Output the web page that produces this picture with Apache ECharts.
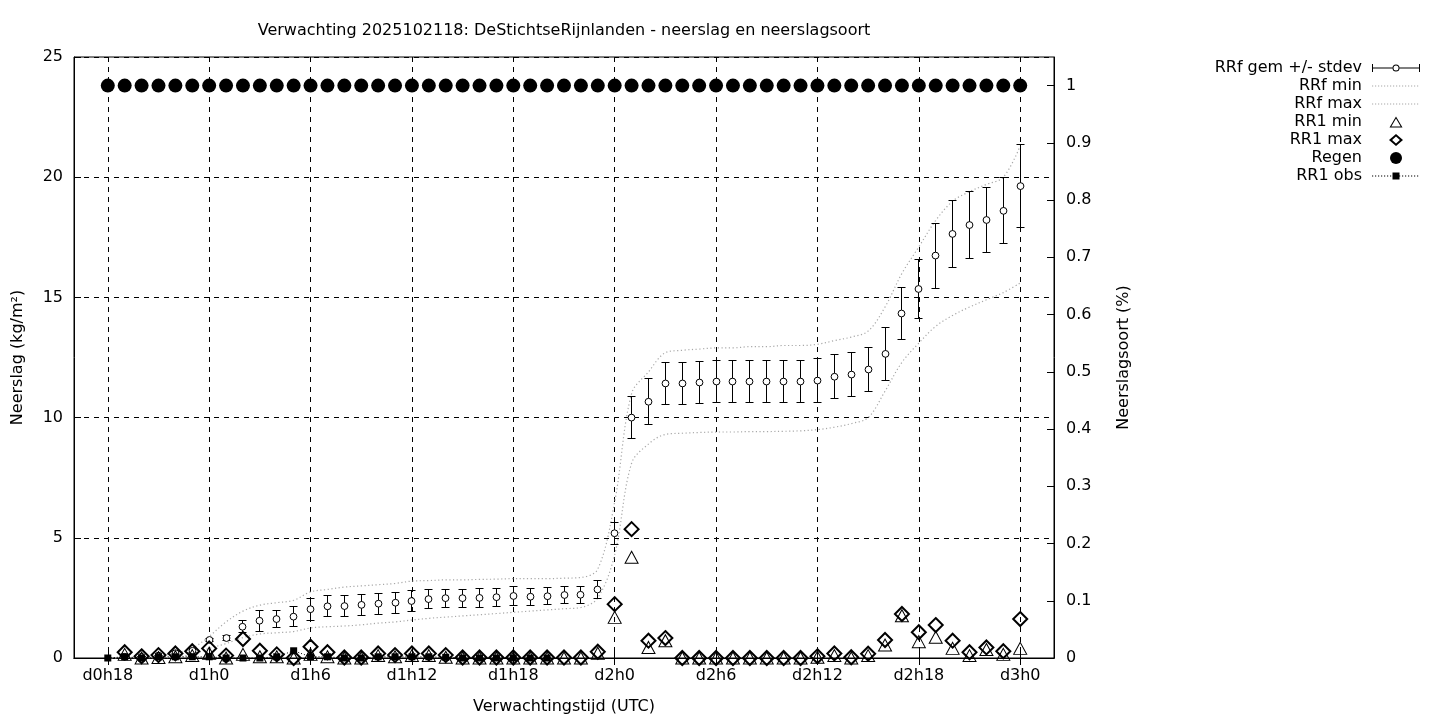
<!DOCTYPE html>
<html>
<head>
<meta charset="utf-8">
<title>Verwachting neerslag</title>
<script src="https://cdn.jsdelivr.net/npm/echarts@6/dist/echarts.min.js"></script>
<style>
  html, body { margin: 0; padding: 0; background: #fff; }
  #chart { width: 1440px; height: 720px; }
</style>
</head>
<body>
<div id="chart"></div>
<script>
// uren vanaf d0h0; de punten lopen van uur 18 (d0h18) tot uur 72 (d3h0)
var firstHour = 18;
var axisHours = [];
for (var h = 16; h <= 74; h++) axisHours.push(h);
var tickHours = [18, 24, 30, 36, 42, 48, 54, 60, 66, 72];

// RRf gemiddelde (kg/m2), per uur vanaf d0h18
var rrfGem = [null, 0.05, 0.05, 0.1, 0.2, 0.3,
  0.75, 0.83, 1.3, 1.55, 1.62, 1.72,
  2.03, 2.15, 2.16, 2.21, 2.26, 2.3,
  2.37, 2.45, 2.49, 2.49, 2.5, 2.53,
  2.58, 2.55, 2.57, 2.62, 2.63, 2.85,
  5.19, 10.0, 10.66, 11.42, 11.42, 11.46,
  11.5, 11.5, 11.5, 11.5, 11.5, 11.5,
  11.54, 11.7, 11.79, 12.0, 12.65, 14.33,
  15.35, 16.74, 17.64, 18.01, 18.22, 18.6,
  19.63];
// standaarddeviatie
var rrfStdev = [null, 0, 0, 0.02, 0.05, 0.08,
  0.05, 0.1, 0.25, 0.43, 0.35, 0.41,
  0.45, 0.44, 0.44, 0.44, 0.44, 0.44,
  0.45, 0.4, 0.38, 0.38, 0.38, 0.38,
  0.38, 0.36, 0.36, 0.36, 0.36, 0.36,
  0.45, 0.88, 0.95, 0.89, 0.87, 0.88,
  0.89, 0.88, 0.88, 0.88, 0.88, 0.88,
  0.9, 0.92, 0.9, 0.9, 1.09, 1.08,
  1.22, 1.35, 1.41, 1.41, 1.35, 1.37,
  1.71];
var rrfMin = [0, 0, 0, 0, 0.05, 0.15,
  0.4, 0.6, 0.85, 1.0, 1.05, 1.1,
  1.25, 1.3, 1.33, 1.38, 1.45, 1.5,
  1.58, 1.65, 1.7, 1.75, 1.8, 1.85,
  1.9, 1.95, 2.0, 2.05, 2.1, 2.5,
  4.3, 8.1, 8.9, 9.3, 9.35, 9.38,
  9.4, 9.4, 9.42, 9.42, 9.43, 9.45,
  9.5, 9.6, 9.75, 10.0, 11.1, 12.3,
  13.1, 13.8, 14.25, 14.6, 14.9, 15.2,
  15.6];
var rrfMax = [0, 0, 0.05, 0.1, 0.2, 0.4,
  0.9, 1.5, 1.95, 2.2, 2.3, 2.4,
  2.75, 2.85, 2.95, 3.0, 3.05, 3.1,
  3.2, 3.22, 3.25, 3.25, 3.27, 3.28,
  3.3, 3.3, 3.3, 3.32, 3.35, 3.7,
  6.5, 11.0, 11.9, 12.7, 12.8, 12.85,
  12.9, 12.9, 12.95, 12.95, 13.0, 13.0,
  13.05, 13.2, 13.35, 13.6, 14.6, 16.0,
  17.1, 18.2, 19.0, 19.4, 19.7, 20.0,
  21.3];
// uurlijkse neerslag RR1
var rr1Min = [null, 0.15, 0, 0.02, 0.05, 0.1,
  0.2, 0, 0.15, 0.05, 0.05, 0,
  0.15, 0.05, 0, 0, 0.1, 0.05,
  0.1, 0.1, 0.03, 0, 0, 0,
  0, 0, 0, 0, 0, 0.2,
  1.69, 4.19, 0.44, 0.72, 0, 0,
  0, 0, 0, 0, 0, 0,
  0.03, 0.1, 0, 0.1, 0.54, 1.76,
  0.68, 0.86, 0.4, 0.1, 0.35, 0.15,
  0.4];
var rr1Max = [null, 0.24, 0.07, 0.12, 0.19, 0.28,
  0.4, 0.1, 0.79, 0.3, 0.15, 0,
  0.47, 0.24, 0.02, 0.02, 0.19, 0.12,
  0.19, 0.19, 0.12, 0.02, 0.02, 0.02,
  0.02, 0.02, 0.02, 0.02, 0.02, 0.26,
  2.24, 5.36, 0.72, 0.83, 0, 0,
  0, 0, 0, 0, 0, 0,
  0.07, 0.19, 0.03, 0.18, 0.75, 1.83,
  1.07, 1.37, 0.72, 0.24, 0.44, 0.28,
  1.62];
var rr1Obs = [0, 0.05, 0, 0.05, 0.05, 0.05,
  0.05, 0, 0, 0, 0.05, 0.3,
  0.05, 0.05, 0, 0, 0.05, 0.05,
  0.05, 0.05, 0.03, 0, 0, 0,
  0, 0, 0];
// neerslagsoort regen (fractie), elk uur 1
var regen = [1, 1, 1, 1, 1, 1, 1, 1, 1, 1, 1, 1, 1, 1, 1, 1, 1, 1,
  1, 1, 1, 1, 1, 1, 1, 1, 1, 1, 1, 1, 1, 1, 1, 1, 1, 1,
  1, 1, 1, 1, 1, 1, 1, 1, 1, 1, 1, 1, 1, 1, 1, 1, 1, 1, 1];

function hourLabel(h) {
  return 'd' + Math.floor(h / 24) + 'h' + (h % 24);
}
var categories = axisHours.map(hourLabel);
var tickLabels = tickHours.map(hourLabel);
function isTick(i) {
  return tickLabels.indexOf(categories[i]) >= 0;
}
function pairs(arr) {
  var out = [];
  arr.forEach(function (v, i) {
    if (v !== null) out.push([hourLabel(firstHour + i), v]);
  });
  return out;
}

var gemData = [];
rrfGem.forEach(function (v, i) {
  if (v !== null) gemData.push([hourLabel(firstHour + i), v, rrfStdev[i]]);
});

function snap(v) {
  return Math.round(v - 0.5) + 0.5;
}

function renderBar(params, api) {
  var x = api.value(0);
  var m = api.value(1);
  var s = api.value(2);
  var c = api.coord([x, m]);
  var px = snap(c[0]);
  var top = snap(api.coord([x, m + s])[1]);
  var bot = snap(api.coord([x, m - s])[1]);
  var w = 4;
  var st = { stroke: '#000', lineWidth: 1, fill: null };
  return {
    type: 'group',
    children: [
      { type: 'line', shape: { x1: px, y1: top, x2: px, y2: bot }, style: st },
      { type: 'line', shape: { x1: px - w, y1: top, x2: px + w, y2: top }, style: st },
      { type: 'line', shape: { x1: px - w, y1: bot, x2: px + w, y2: bot }, style: st },
      { type: 'circle', shape: { cx: px, cy: c[1], r: 3.4 }, style: { stroke: '#000', fill: '#fff', lineWidth: 1 } }
    ]
  };
}

// legenda-iconen: vak 53x12, tekening van x=5 tot 53 (midden op 29)
var box = 'M0,0M53,12';
function dots() {
  var s = '';
  for (var x = 5; x < 53; x += 3) s += 'M' + x + ',5.4h1.2v1.2h-1.2z';
  return s;
}
var icons = {
  bar: 'path://' + box + 'M5,2h1v8h-1zM52,2h1v8h-1zM5,5.5h20.5v1h-20.5zM32.5,5.5h20.5v1h-20.5z' +
    'M32.5,6A3.5,3.5 0 1 1 25.5,6A3.5,3.5 0 1 1 32.5,6zM31.5,6A2.5,2.5 0 1 0 26.5,6A2.5,2.5 0 1 0 31.5,6z',
  dotted: 'path://' + box + dots(),
  triangle: 'path://' + box + 'M22.5,11.5L29,0.5L35.5,11.5zM24.3,10.5L33.7,10.5L29,2.5z',
  diamond: 'path://' + box + 'M29,0L36,6L29,12L22,6zM29,2.6L25.1,6L29,9.4L32.9,6z',
  circle: 'path://' + box + 'M35,6A6,6 0 1 1 23,6A6,6 0 1 1 35,6z',
  obs: 'path://' + box + dots() + 'M25.5,2.5h7v7h-7z'
};
function legendItem(name, icon, color) {
  return { name: name, icon: icon, itemStyle: { color: color, borderWidth: 0, opacity: 1 } };
}

var font = 'DejaVu Sans';
var chart = echarts.init(document.getElementById('chart'));
var option = {
  animation: false,
  backgroundColor: '#fff',
  textStyle: { fontFamily: font, color: '#000' },
  title: {
    text: 'Verwachting 2025102118: DeStichtseRijnlanden - neerslag en neerslagsoort',
    left: 559,
    textAlign: 'center',
    top: 18,
    textStyle: { fontSize: 16, fontWeight: 'normal', fontFamily: font, color: '#000' }
  },
  legend: {
    orient: 'vertical',
    right: 15,
    top: 55,
    align: 'right',
    itemWidth: 53,
    itemHeight: 12,
    itemGap: 2,
    textStyle: { fontSize: 16, fontFamily: font, color: '#000' },
    data: [
      legendItem('RRf gem +/- stdev', icons.bar, '#000'),
      legendItem('RRf min', icons.dotted, '#a8a8a8'),
      legendItem('RRf max', icons.dotted, '#a8a8a8'),
      legendItem('RR1 min', icons.triangle, '#000'),
      legendItem('RR1 max', icons.diamond, '#000'),
      legendItem('Regen', icons.circle, '#000'),
      legendItem('RR1 obs', icons.obs, '#000')
    ]
  },
  grid: {
    left: 74, right: 386, top: 57, bottom: 61,
    show: true, borderColor: '#000', borderWidth: 1, backgroundColor: 'transparent'
  },
  xAxis: [{
    type: 'category',
    data: categories,
    boundaryGap: false,
    name: 'Verwachtingstijd (UTC)',
    nameLocation: 'middle',
    nameGap: 41,
    nameTextStyle: { fontSize: 16, fontFamily: font, color: '#000' },
    axisLine: { lineStyle: { color: '#000', width: 1 } },
    axisTick: { inside: true, length: 7, interval: isTick, lineStyle: { color: '#000' } },
    axisLabel: { interval: isTick, fontSize: 16, fontFamily: font, color: '#000', margin: 10 },
    splitLine: { show: true, interval: isTick, lineStyle: { color: '#000', type: [5, 5], width: 1 } }
  }, {
    type: 'category',
    data: categories,
    boundaryGap: false,
    position: 'top',
    axisLine: { lineStyle: { color: '#000', width: 1 } },
    axisTick: { inside: true, length: 7, interval: isTick, lineStyle: { color: '#000' } },
    axisLabel: { show: false },
    splitLine: { show: false }
  }],
  yAxis: [{
    type: 'value',
    min: 0, max: 25, interval: 5,
    name: 'Neerslag (kg/m²)',
    nameLocation: 'middle',
    nameGap: 48,
    nameTextStyle: { fontSize: 16, fontFamily: font, color: '#000' },
    axisLine: { show: true, lineStyle: { color: '#000' } },
    axisTick: { show: true, inside: true, length: 7, lineStyle: { color: '#000' } },
    axisLabel: { fontSize: 16, fontFamily: font, color: '#000', margin: 11 },
    splitLine: { show: true, lineStyle: { color: '#000', type: [5, 5], width: 1 } }
  }, {
    type: 'value',
    min: 0, max: 1.05, interval: 0.1,
    position: 'right',
    name: 'Neerslagsoort (%)',
    nameLocation: 'middle',
    nameGap: 62,
    nameRotate: 90,
    nameTextStyle: { fontSize: 16, fontFamily: font, color: '#000' },
    axisLine: { show: true, lineStyle: { color: '#000' } },
    axisTick: { show: true, inside: true, length: 7, lineStyle: { color: '#000' } },
    axisLabel: {
      fontSize: 16, fontFamily: font, color: '#000', margin: 12, showMaxLabel: false,
      formatter: function (v) { return String(Math.round(v * 100) / 100); }
    },
    splitLine: { show: false }
  }],
  series: [{
    name: 'RRf min',
    type: 'line',
    data: pairs(rrfMin),
    symbol: 'none',
    smooth: 0.35,
    lineStyle: { color: '#a8a8a8', width: 1.2, type: [1.2, 2.5] },
    itemStyle: { color: '#a8a8a8' },
    z: 2
  }, {
    name: 'RRf max',
    type: 'line',
    data: pairs(rrfMax),
    symbol: 'none',
    smooth: 0.35,
    lineStyle: { color: '#a8a8a8', width: 1.2, type: [1.2, 2.5] },
    itemStyle: { color: '#a8a8a8' },
    z: 2
  }, {
    name: 'RRf gem +/- stdev',
    type: 'custom',
    renderItem: renderBar,
    data: gemData,
    encode: { x: 0, y: 1 },
    itemStyle: { color: '#000' },
    z: 3
  }, {
    name: 'RR1 min',
    type: 'scatter',
    data: pairs(rr1Min),
    symbol: 'triangle',
    symbolSize: [13, 12],
    itemStyle: { color: 'rgba(255,255,255,0)', borderColor: '#000', borderWidth: 1, opacity: 1 },
    z: 4
  }, {
    name: 'RR1 max',
    type: 'scatter',
    data: pairs(rr1Max),
    symbol: 'diamond',
    symbolSize: 14,
    itemStyle: { color: 'rgba(255,255,255,0)', borderColor: '#000', borderWidth: 2, opacity: 1 },
    z: 4
  }, {
    name: 'Regen',
    type: 'scatter',
    yAxisIndex: 1,
    data: pairs(regen),
    symbol: 'circle',
    symbolSize: 14,
    itemStyle: { color: '#000', opacity: 1 },
    z: 4
  }, {
    name: 'RR1 obs',
    type: 'line',
    data: pairs(rr1Obs),
    symbol: 'rect',
    symbolSize: 7,
    showAllSymbol: true,
    lineStyle: { color: '#000', width: 1, type: [1, 2] },
    itemStyle: { color: '#000', opacity: 1 },
    z: 5
  }]
};
chart.setOption(option);
</script>
</body>
</html>
